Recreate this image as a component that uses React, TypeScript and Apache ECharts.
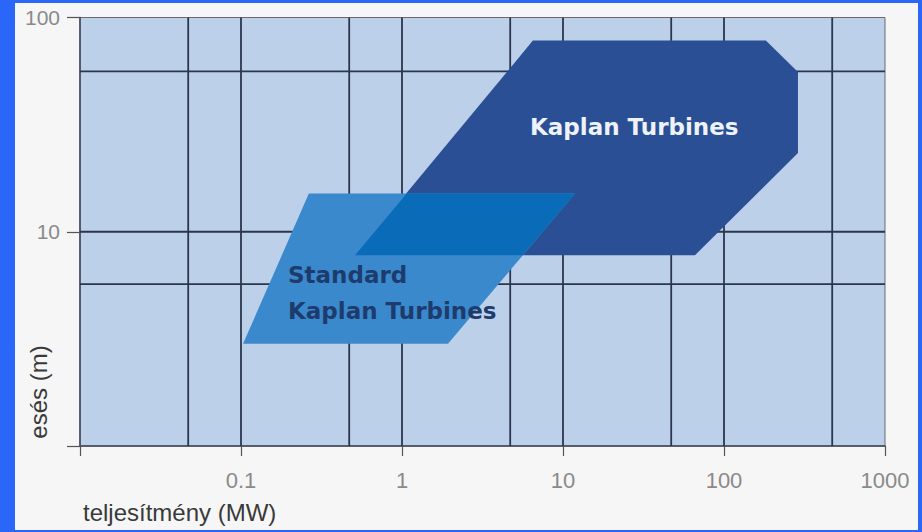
import React, { useEffect, useRef } from "react";
import * as echarts from "echarts";

// Axis ranges and ticks
const xMin = 0.01;
const xMax = 1000;
const yMin = 1;
const yMax = 100;
const xTickValues = [0.01, 0.1, 1, 10, 100, 1000];
const xTickLabels = ["", "0.1", "1", "10", "100", "1000"];
const yTickValues = [1, 10, 100];
const yTickLabels = ["", "10", "100"];

// Grid lines drawn inside the plot
const xGridLines = [0.047, 0.1, 0.47, 1, 4.7, 10, 47, 100, 470];
const yGridLines = [5.7, 10, 56];

// Application areas (power MW, head m)
const kaplanX = [6.5, 182, 288, 288, 66, 0.51];
const kaplanY = [78, 78, 55.6, 23.3, 7.76, 7.76];
const standardX = [0.264, 11.9, 1.93, 0.103];
const standardY = [15.1, 15.1, 3.0, 3.0];
const overlapX = [1.07, 11.9, 5.6, 0.51];
const overlapY = [15.1, 15.1, 7.76, 7.76];

const xTitle = "teljesítmény (MW)";
const yTitle = "esés (m)";

function polygonSeries(name: string, xs: number[], ys: number[], fill: string, z: number) {
  return {
    name,
    type: "custom",
    silent: true,
    z,
    data: [[xs[0], ys[0]]],
    renderItem: (_p: any, api: any) => ({
      type: "polygon",
      shape: { points: xs.map((x, i) => api.coord([x, ys[i]])) },
      style: { fill },
    }),
  };
}

export default function App() {
  const ref = useRef<HTMLDivElement>(null);
  useEffect(() => {
    if (!ref.current) return;
    const chart = echarts.init(ref.current, undefined, { renderer: "svg" });
    const labelFont = "Liberation Sans, Arial, sans-serif";
    const boldFont = "bold 23px DejaVu Sans, Verdana, sans-serif";
    chart.setOption({
      animation: false,
      backgroundColor: "#f6f6f6",
      grid: {
        left: 65,
        top: 14.5,
        width: 805,
        height: 428.5,
        show: true,
        backgroundColor: "#bdd0ea",
        borderColor: "#6a6a6a",
        borderWidth: 1,
      },
      xAxis: {
        type: "log",
        logBase: 10,
        min: xMin,
        max: xMax,
        splitLine: { show: false },
        axisLine: { show: true, lineStyle: { color: "#3d4656", width: 1.5 } },
        axisTick: { show: true, length: 10, lineStyle: { color: "#555", width: 1.2 } },
        axisLabel: {
          margin: 23,
          color: "#8a8a8a",
          fontSize: 22,
          fontFamily: labelFont,
          formatter: (v: number) => {
            const i = xTickValues.findIndex((t) => Math.abs(Math.log10(t) - Math.log10(v)) < 1e-6);
            return i >= 0 ? xTickLabels[i] : "";
          },
        },
      },
      yAxis: {
        type: "log",
        logBase: 10,
        min: yMin,
        max: yMax,
        splitLine: { show: false },
        axisLine: { show: true, lineStyle: { color: "#3d4656", width: 1.5 } },
        axisTick: { show: true, length: 13, lineStyle: { color: "#555", width: 1.2 } },
        axisLabel: {
          margin: 20,
          color: "#8a8a8a",
          fontSize: 21,
          fontFamily: labelFont,
          formatter: (v: number) => {
            const i = yTickValues.findIndex((t) => Math.abs(Math.log10(t) - Math.log10(v)) < 1e-6);
            return i >= 0 ? yTickLabels[i] : "";
          },
        },
      },
      graphic: [
        {
          type: "text",
          left: 68,
          top: 497,
          style: { text: xTitle, fill: "#3a3a3a", font: `24px ${labelFont}` },
        },
        {
          type: "text",
          x: 23,
          y: 389,
          rotation: Math.PI / 2,
          style: {
            text: yTitle,
            fill: "#3a3a3a",
            font: `24px ${labelFont}`,
            align: "center",
            verticalAlign: "middle",
          },
        },
        {
          type: "text",
          x: 515,
          y: 124,
          z: 100,
          style: {
            text: "Kaplan Turbines",
            fill: "#eef3fa",
            font: boldFont,
            verticalAlign: "middle",
          },
        },
        {
          type: "text",
          x: 273,
          y: 271.5,
          z: 100,
          style: {
            text: "Standard",
            fill: "#1d3c6d",
            font: boldFont,
            verticalAlign: "middle",
          },
        },
        {
          type: "text",
          x: 273,
          y: 307.5,
          z: 100,
          style: {
            text: "Kaplan Turbines",
            fill: "#1d3c6d",
            font: boldFont,
            verticalAlign: "middle",
          },
        },
      ],
      series: [
        {
          name: "vgrid",
          type: "custom",
          silent: true,
          z: 1,
          data: xGridLines.map((v) => [v, yMin]),
          renderItem: (_p: any, api: any) => {
            const a = api.coord([api.value(0), yMin]);
            const b = api.coord([api.value(0), yMax]);
            return {
              type: "line",
              shape: { x1: a[0], y1: a[1], x2: b[0], y2: b[1] },
              style: { stroke: "#2a364b", lineWidth: 1.8 },
            };
          },
        },
        {
          name: "hgrid",
          type: "custom",
          silent: true,
          z: 1,
          data: yGridLines.map((v) => [xMin, v]),
          renderItem: (_p: any, api: any) => {
            const a = api.coord([xMin, api.value(1)]);
            const b = api.coord([xMax, api.value(1)]);
            return {
              type: "line",
              shape: { x1: a[0], y1: a[1], x2: b[0], y2: b[1] },
              style: { stroke: "#2a364b", lineWidth: 1.8 },
            };
          },
        },
        polygonSeries("Kaplan", kaplanX, kaplanY, "#2a4f95", 2),
        polygonSeries("Standard", standardX, standardY, "#3b89cd", 3),
        polygonSeries("Overlap", overlapX, overlapY, "#0a6cb8", 4),
      ],
    });
    return () => chart.dispose();
  }, []);

  return (
    <div
      style={{
        position: "fixed",
        left: 0,
        top: 0,
        width: 922,
        height: 532,
        background: "#2a66f8",
      }}
    >
      <div
        ref={ref}
        style={{ position: "absolute", left: 15, top: 3, width: 903, height: 527 }}
      />
    </div>
  );
}
